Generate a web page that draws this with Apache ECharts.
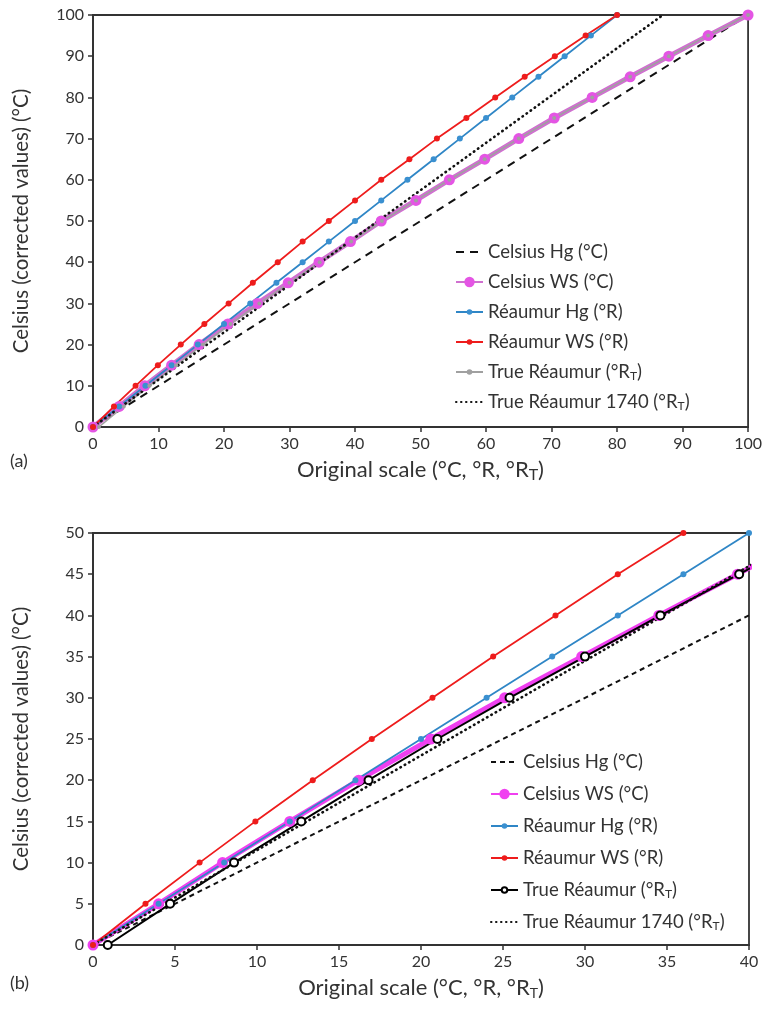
<!DOCTYPE html>
<html>
<head>
<meta charset="utf-8">
<script src="https://cdn.jsdelivr.net/npm/echarts@6/dist/echarts.min.js"></script>
<style>
  body { margin: 0; background: #fff; }
  #chart_a, #chart_b { position: absolute; left: 0; width: 765px; height: 508px; }
  #chart_a { top: 0; }
  #chart_b { top: 508px; }
</style>
</head>
<body>
<div id="chart_a"></div>
<div id="chart_b"></div>
<script>
// corrected Celsius values (y) shared by the marker series
var celsiusVals = [0, 5, 10, 15, 20, 25, 30, 35, 40, 45, 50, 55, 60, 65, 70, 75, 80, 85, 90, 95, 100];
// original scale readings (x)
var celsiusWsX = [0, 4.0, 7.9, 12.0, 16.2, 20.6, 25.1, 29.8, 34.5, 39.3, 44.0, 49.3, 54.4, 59.8, 65.0, 70.4, 76.2, 82.0, 87.9, 93.9, 100];
var reaumurHgX = [0, 4, 8, 12, 16, 20, 24, 28, 32, 36, 40, 44, 48, 52, 56, 60, 64, 68, 72, 76, 80];
var reaumurWsX = [0, 3.2, 6.5, 9.9, 13.4, 17.0, 20.7, 24.4, 28.2, 32.0, 36.0, 40.0, 44.0, 48.3, 52.5, 57.0, 61.4, 65.9, 70.5, 75.2, 80.0];
var trueReaumurX = [0.9, 4.7, 8.6, 12.7, 16.8, 21.0, 25.4, 30.0, 34.6, 39.4, 44.1, 49.3, 54.4, 59.8, 65.0, 70.4, 76.2, 82.0, 87.9, 93.9, 100];
// straight reference lines
var celsiusHgX = [0, 100];
var celsiusHgY = [0, 100];
var true1740X = [0, 87];
var true1740Y = [0, 100];

var names = ['Celsius Hg (°C)', 'Celsius WS (°C)', 'Réaumur Hg (°R)', 'Réaumur WS (°R)', 'True Réaumur (°RT)', 'True Réaumur 1740 (°RT)'];

function pairs(xs, ys) {
  return xs.map(function (x, i) { return [x, ys[i]]; });
}

var FONT = 'Lato';
var TXT = '#333';
var NOSYM = { color: 'rgba(0,0,0,0)', borderWidth: 0 };

// one legend block; several are stacked so the marker size can differ per row
function legendBlock(left, top, gap, h, data) {
  return {
    orient: 'vertical',
    left: left, top: top,
    padding: 0,
    itemGap: gap,
    itemWidth: 27,
    itemHeight: h,
    data: data,
    formatter: function (n) { return n.replace('°RT', '°R{sub|T}'); },
    textStyle: {
      fontFamily: FONT, fontSize: 18.5, color: TXT, lineHeight: 20,
      rich: { sub: { fontFamily: FONT, fontSize: 12, color: TXT, lineHeight: 12, verticalAlign: 'bottom' } }
    }
  };
}

function makeOption(cfg) {
  var L = cfg.legendLeft, T = cfg.legendTop, S = cfg.legendStep;
  return {
    animation: false,
    textStyle: { fontFamily: FONT },
    grid: {
      left: 93, right: 16, top: cfg.gridTop, bottom: cfg.gridBottom,
      show: true, borderColor: '#333', borderWidth: 1.8, backgroundColor: 'transparent'
    },
    legend: [
      legendBlock(L, T, 0, 8, [{ name: names[0], itemStyle: NOSYM }]),
      legendBlock(L, T + S, 0, 13, [names[1]]),
      legendBlock(L, T + 2 * S, S - 20, 7, [names[2], names[3], names[4], { name: names[5], itemStyle: NOSYM }])
    ],
    xAxis: {
      type: 'value', min: 0, max: cfg.xMax, interval: cfg.xInterval,
      name: cfg.xName,
      nameLocation: 'middle', nameGap: 25,
      nameTextStyle: {
        fontFamily: FONT, fontSize: 22, color: TXT, lineHeight: 26,
        rich: {
          sub: { fontFamily: FONT, fontSize: 14, color: TXT, lineHeight: 15, verticalAlign: 'bottom' },
          sc: { fontFamily: FONT, fontSize: 16, color: TXT, lineHeight: 20, verticalAlign: 'bottom' }
        }
      },
      axisLine: { lineStyle: { color: '#333', width: 1.8 } },
      axisTick: { length: 5, lineStyle: { color: '#333', width: 1.5 } },
      axisLabel: { fontFamily: FONT, fontSize: 16, color: TXT, margin: 9 },
      splitLine: { show: false }
    },
    yAxis: {
      type: 'value', min: 0, max: cfg.yMax, interval: cfg.yInterval,
      name: 'Celsius (corrected values) (°C)',
      nameLocation: 'middle', nameGap: 61, nameRotate: 90,
      nameTextStyle: { fontFamily: FONT, fontSize: 20.5, color: TXT },
      axisLine: { lineStyle: { color: '#333', width: 1.8 } },
      axisTick: { length: 5, lineStyle: { color: '#333', width: 1.5 } },
      axisLabel: { fontFamily: FONT, fontSize: 16, color: TXT, margin: 9 },
      splitLine: { show: false }
    },
    graphic: [{
      type: 'text', left: 10, top: cfg.tagTop,
      style: { text: cfg.tag, font: '18px Lato', fill: TXT }
    }],
    series: [
      {
        name: names[0], type: 'line', symbol: 'none',
        data: pairs(celsiusHgX, celsiusHgY),
        lineStyle: { color: '#111', width: 2, type: cfg.dash },
        itemStyle: { color: '#111' }
      },
      {
        name: names[1], type: 'line', symbol: 'circle', symbolSize: 11,
        data: pairs(celsiusWsX, celsiusVals),
        lineStyle: { color: cfg.wsLine, width: 5 },
        itemStyle: { color: cfg.wsDot }
      },
      {
        name: names[2], type: 'line', symbol: 'circle', symbolSize: 6,
        data: pairs(reaumurHgX, celsiusVals),
        lineStyle: { color: '#2f86c6', width: 1.8 },
        itemStyle: { color: '#3a90d0' }
      },
      {
        name: names[3], type: 'line', symbol: 'circle', symbolSize: 6,
        data: pairs(reaumurWsX, celsiusVals),
        lineStyle: { color: '#ee1c1c', width: 1.8 },
        itemStyle: { color: '#ee1c1c' }
      },
      cfg.trueSeries(),
      {
        name: names[5], type: 'line', symbol: 'none',
        data: pairs(true1740X, true1740Y),
        lineStyle: { color: '#111', width: 2.6, type: [0.5, 4.5], cap: 'round' },
        itemStyle: { color: '#111' }
      }
    ]
  };
}

var chartA = echarts.init(document.getElementById('chart_a'), null, { renderer: 'canvas' });
chartA.setOption(makeOption({
  gridTop: 15, gridBottom: 81, xMax: 100, yMax: 100, xInterval: 10, yInterval: 10,
  legendLeft: 455, legendTop: 242, legendStep: 30,
  xName: 'Original scale (°C, °R, °R{sc|T})',
  tag: '(a)', tagTop: 452,
  dash: [8, 6],
  wsLine: '#d070d0', wsDot: '#e455e4',
  trueSeries: function () {
    return {
      name: names[4], type: 'line', symbol: 'circle', symbolSize: 4,
      data: pairs(trueReaumurX, celsiusVals),
      lineStyle: { color: '#a0a0a0', width: 1.6 },
      itemStyle: { color: '#a0a0a0' }
    };
  }
}));

var chartB = echarts.init(document.getElementById('chart_b'), null, { renderer: 'canvas' });
chartB.setOption(makeOption({
  gridTop: 25, gridBottom: 71, xMax: 40, yMax: 50, xInterval: 5, yInterval: 5,
  legendLeft: 490, legendTop: 244, legendStep: 32,
  xName: 'Original scale (°C, °R, °R{sub|T})',
  tag: '(b)', tagTop: 466,
  dash: [5, 4],
  wsLine: '#f040f0', wsDot: '#f040f0',
  trueSeries: function () {
    return {
      name: names[4], type: 'line', symbol: 'emptyCircle', symbolSize: 8,
      data: pairs(trueReaumurX, celsiusVals),
      lineStyle: { color: '#000', width: 2 },
      itemStyle: { color: '#000', borderWidth: 2 }
    };
  }
}));

window.addEventListener('resize', function () { chartA.resize(); chartB.resize(); });
</script>
</body>
</html>
